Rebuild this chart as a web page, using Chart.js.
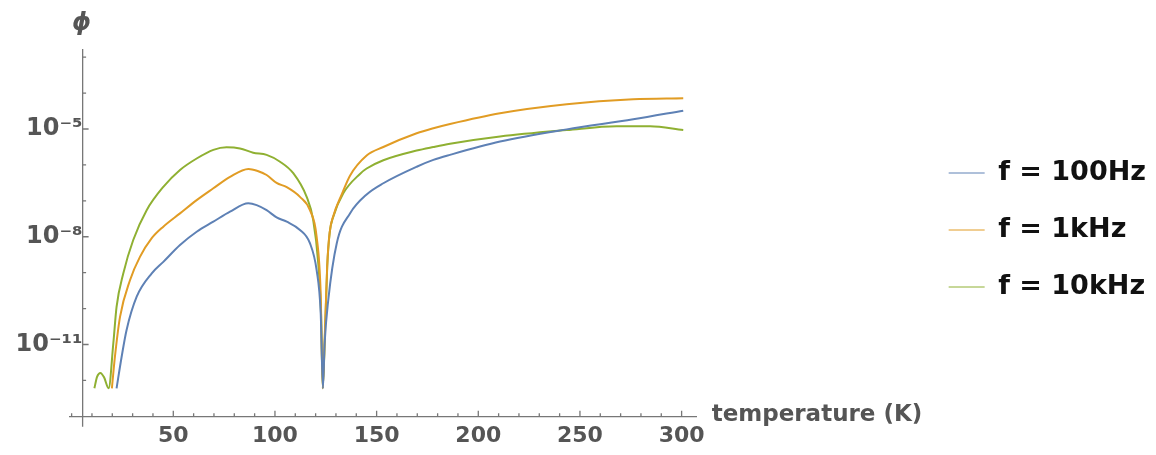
<!DOCTYPE html>
<html>
<head>
<meta charset="utf-8">
<script src="https://cdn.jsdelivr.net/npm/chart.js@4/dist/chart.umd.min.js"></script>
<style>
  body { margin: 0; background: #fff; }
</style>
</head>
<body>
<canvas id="phaseChart" width="1156" height="455"></canvas>
<script>
// temperature (K) and phase values
const temp100 = [22.1, 24.6, 27, 32, 39.4, 45.1, 53.3, 61.5, 69.7, 77.9, 86.9, 91, 95.9, 100.8, 105.8, 112.3, 117.2, 120.5, 122.5, 123.6,
  124.4, 126.2, 130.4, 136.9, 145.1, 153.3, 169.7, 177.9, 186.1, 210.7, 243.5, 276.2, 300.8];
const phi100 = [6.03e-13, 4.57e-12, 2.51e-11, 2.14e-10, 9.55e-10, 2.0e-9, 5.89e-9, 1.38e-8, 2.63e-8, 5.01e-8, 8.51e-8, 7.59e-8, 5.50e-8, 3.47e-8, 2.63e-8, 1.55e-8, 6.61e-9, 1.17e-9, 7.41e-11, 6.03e-13,
  1.0e-11, 1.70e-10, 6.61e-9, 4.47e-8, 1.51e-7, 3.09e-7, 8.91e-7, 1.38e-6, 1.91e-6, 4.47e-6, 9.77e-6, 1.86e-5, 3.24e-5];

const temp1k = [19.8, 21.3, 23.8, 28.7, 33.6, 39.4, 45.1, 53.3, 61.5, 69.7, 77.9, 87, 91.5, 95.9, 100.8, 105.8, 112.3, 117.2, 120.5, 122.5, 123.5,
  124.6, 125.7, 126.9, 128.7, 133, 136.9, 145.1, 153.3, 169.7, 177.9, 186.1, 210.7, 243.5, 276.2, 300.8];
const phi1k = [6.03e-13, 4.57e-12, 5.89e-11, 6.17e-10, 2.75e-9, 9.12e-9, 1.91e-8, 4.47e-8, 1.05e-7, 2.24e-7, 4.68e-7, 7.76e-7, 6.76e-7, 5.25e-7, 3.16e-7, 2.40e-7, 1.29e-7, 5.50e-8, 1.0e-8, 2.51e-10, 6.03e-13,
  2.51e-11, 1.58e-9, 1.32e-8, 3.80e-8, 1.58e-7, 5.01e-7, 1.82e-6, 3.16e-6, 7.59e-6, 1.05e-5, 1.38e-5, 2.75e-5, 4.90e-5, 6.76e-5, 7.24e-5];

const temp10k = [11.2, 12.5, 14.2, 16, 18.2, 20.5, 22.1, 25.4, 30.3, 36.9, 45.1, 53.3, 61.5, 69.7, 76.2, 82.8, 89.3, 95.9, 102.5, 109, 115.6, 118.8, 121.3, 122.7, 123.5,
  124.6, 125.7, 126.9, 128.7, 133.6, 141.8, 145.1, 153.3, 169.7, 177.9, 186.1, 210.7, 243.5, 268, 284.5, 300.8];
const phi10k = [6.03e-13, 1.26e-12, 1.62e-12, 1.20e-12, 6.03e-13, 1.07e-11, 1.12e-10, 9.55e-10, 8.13e-9, 5.50e-8, 2.45e-7, 7.24e-7, 1.51e-6, 2.63e-6, 3.09e-6, 2.88e-6, 2.19e-6, 1.91e-6, 1.23e-6, 5.89e-7, 1.29e-7, 2.95e-8, 1.82e-9, 6.31e-11, 6.03e-13,
  2.04e-11, 1.45e-9, 1.26e-8, 3.63e-8, 1.62e-7, 5.62e-7, 7.94e-7, 1.35e-6, 2.51e-6, 3.16e-6, 3.89e-6, 6.17e-6, 9.33e-6, 1.20e-5, 1.20e-5, 9.33e-6];

const seriesNames = ['f = 100Hz', 'f = 1kHz', 'f = 10kHz'];
const seriesColors = ['#5E81B5', '#E19C24', '#8FB032'];

const xTicks = [0, 10, 20, 30, 40, 50, 60, 70, 80, 90, 100, 110, 120, 130, 140, 150, 160, 170, 180, 190, 200,
  210, 220, 230, 240, 250, 260, 270, 280, 290, 300];
const xLabeled = [50, 100, 150, 200, 250, 300];
const yTickExps = [-12, -11, -10, -9, -8, -7, -6, -5, -4, -3];
const yLabelExps = [-11, -8, -5];

const yAxisAt = 5.4;
const axisGray = '#777';
const textGray = '#555';

const supDigits = { '-': '\u207B', '0': '\u2070', '1': '\u00B9', '2': '\u00B2', '3': '\u00B3', '4': '\u2074',
  '5': '\u2075', '6': '\u2076', '7': '\u2077', '8': '\u2078', '9': '\u2079' };
function sup(n) {
  return String(n).split('').map(c => supDigits[c]).join('');
}

function toPoints(xs, ys) {
  return xs.map((x, i) => ({ x: x, y: ys[i] }));
}

// mathematica style inward ticks, axis names
const axisExtras = {
  id: 'axisExtras',
  afterDraw(chart) {
    const ctx = chart.ctx;
    const xs = chart.scales.x;
    const ys = chart.scales.y;
    const area = chart.chartArea;
    const axisX = xs.getPixelForValue(yAxisAt);
    ctx.save();
    ctx.strokeStyle = axisGray;
    ctx.lineWidth = 1.3;
    ctx.beginPath();
    xs.ticks.forEach(t => {
      const px = xs.getPixelForValue(t.value);
      const len = xLabeled.includes(t.value) ? 6 : 3.5;
      ctx.moveTo(px, area.bottom);
      ctx.lineTo(px, area.bottom - len);
    });
    ys.ticks.forEach(t => {
      const py = ys.getPixelForValue(t.value);
      const e = Math.round(Math.log10(t.value));
      const len = yLabelExps.includes(e) ? 6 : 3.5;
      ctx.moveTo(axisX, py);
      ctx.lineTo(axisX + len, py);
    });
    ctx.moveTo(axisX, area.bottom);
    ctx.lineTo(axisX, area.bottom + 10);
    ctx.stroke();

    ctx.fillStyle = textGray;
    ctx.font = 'italic bold 24px "DejaVu Sans"';
    ctx.textAlign = 'center';
    ctx.textBaseline = 'alphabetic';
    ctx.fillText('\u03D5', axisX - 1, 30);

    ctx.font = 'bold 23px "DejaVu Sans"';
    ctx.textAlign = 'left';
    ctx.fillText('temperature (K)', area.right + 15, area.bottom + 4);
    ctx.restore();
  }
};

const ctx = document.getElementById('phaseChart').getContext('2d');
const chart = new Chart(ctx, {
  type: 'line',
  data: {
    datasets: [
      { label: seriesNames[0], data: toPoints(temp100, phi100), borderColor: seriesColors[0], backgroundColor: seriesColors[0] },
      { label: seriesNames[1], data: toPoints(temp1k, phi1k), borderColor: seriesColors[1], backgroundColor: seriesColors[1] },
      { label: seriesNames[2], data: toPoints(temp10k, phi10k), borderColor: seriesColors[2], backgroundColor: seriesColors[2] }
    ]
  },
  options: {
    responsive: false,
    animation: false,
    layout: { padding: { left: 70, top: 5, right: 0, bottom: 0 } },
    elements: {
      point: { radius: 0 },
      line: { borderWidth: 2, cubicInterpolationMode: 'monotone', fill: false }
    },
    plugins: {
      tooltip: { enabled: false },
      legend: {
        position: 'right',
        maxWidth: 240,
        labels: {
          usePointStyle: true,
          pointStyle: 'line',
          pointStyleWidth: 36,
          padding: 30,
          color: '#111',
          font: { family: 'DejaVu Sans', weight: 'bold', size: 27 }
        }
      }
    },
    scales: {
      x: {
        type: 'linear',
        min: -0.8,
        max: 307.4,
        afterBuildTicks: s => { s.ticks = xTicks.map(v => ({ value: v })); },
        afterFit: s => { s.height = 38.3; },
        grid: { drawOnChartArea: false, drawTicks: false },
        border: { color: axisGray, width: 1.3 },
        ticks: {
          autoSkip: false,
          maxRotation: 0,
          padding: 6,
          color: textGray,
          font: { family: 'DejaVu Sans', weight: 'bold', size: 22 },
          callback: v => xLabeled.includes(v) ? String(v) : ''
        }
      },
      y: {
        type: 'logarithmic',
        position: { x: yAxisAt },
        min: Math.pow(10, -13.01),
        max: Math.pow(10, -2.8),
        afterBuildTicks: s => { s.ticks = yTickExps.map(e => ({ value: Math.pow(10, e) })); },
        grid: { drawOnChartArea: false, drawTicks: false },
        border: { color: axisGray, width: 1.3 },
        ticks: {
          autoSkip: false,
          padding: 7,
          color: textGray,
          font: { family: 'DejaVu Sans', weight: 'bold', size: 24 },
          callback: v => {
            const e = Math.round(Math.log10(v));
            return yLabelExps.includes(e) ? '10' + sup(e) : '';
          }
        }
      },
      topGap: {
        type: 'linear',
        position: 'top',
        display: true,
        afterFit: s => { s.height = 45; },
        grid: { display: false },
        border: { display: false },
        ticks: { display: false }
      },
      gap: {
        type: 'linear',
        position: 'right',
        display: true,
        afterFit: s => { s.width = 222; },
        grid: { display: false },
        border: { display: false },
        ticks: { display: false }
      }
    }
  },
  plugins: [axisExtras]
});
</script>
</body>
</html>
